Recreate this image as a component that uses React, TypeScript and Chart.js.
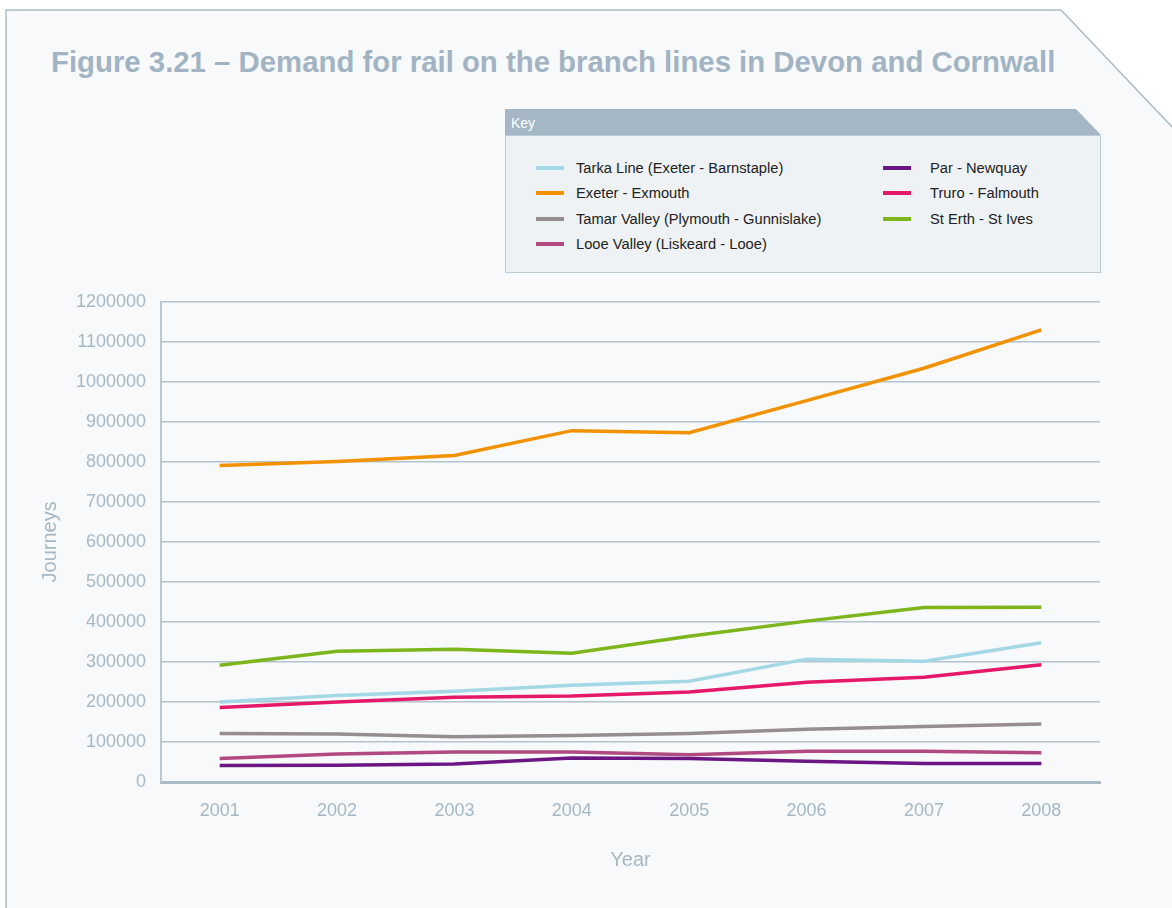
import React, { useEffect, useRef } from "react";
import { Chart, registerables } from "chart.js";

Chart.register(...registerables);

const titleText = "Figure 3.21 – Demand for rail on the branch lines in Devon and Cornwall";
const years = ["2001", "2002", "2003", "2004", "2005", "2006", "2007", "2008"];

const tarka = [200000, 216000, 227000, 242000, 252000, 307000, 302000, 348000];
const exmouth = [791000, 801000, 816000, 878000, 873000, 953000, 1034000, 1130000];
const tamar = [121000, 120000, 113000, 116000, 121000, 132000, 139000, 145000];
const looe = [59000, 70000, 75000, 75000, 68000, 77000, 77000, 73000];
const par = [41000, 42000, 45000, 60000, 59000, 52000, 46000, 46000];
const truro = [186000, 200000, 212000, 215000, 225000, 249000, 262000, 293000];
const stErth = [292000, 327000, 332000, 322000, 364000, 402000, 436000, 437000];

const seriesNames = [
  "Tarka Line (Exeter - Barnstaple)",
  "Exeter - Exmouth",
  "Tamar Valley (Plymouth - Gunnislake)",
  "Looe Valley (Liskeard - Looe)",
  "Par - Newquay",
  "Truro - Falmouth",
  "St Erth - St Ives",
];
const seriesValues = [tarka, exmouth, tamar, looe, par, truro, stErth];
const seriesColors = ["#a5d8e5", "#f39200", "#958d90", "#b04a80", "#6b1683", "#e5186a", "#7cb51c"];

const yMin = 0;
const yMax = 1200000;
const yStep = 100000;

const AXIS_TEXT = "#a6b8c5";
const FONT = "'Liberation Sans', Arial, sans-serif";

export default function App() {
  const canvasRef = useRef<HTMLCanvasElement | null>(null);

  useEffect(() => {
    if (!canvasRef.current) return;
    const chart = new Chart(canvasRef.current, {
      type: "line",
      data: {
        labels: years,
        datasets: seriesNames.map((name, i) => ({
          label: name,
          data: seriesValues[i],
          borderColor: seriesColors[i],
          backgroundColor: seriesColors[i],
          borderWidth: 3.5,
          pointRadius: 0,
          tension: 0,
          fill: false,
        })),
      },
      options: {
        animation: false,
        responsive: false,
        maintainAspectRatio: false,
        layout: { padding: { left: 0, right: 72, top: 17, bottom: 0 } },
        plugins: { legend: { display: false }, tooltip: { enabled: false }, title: { display: false } },
        scales: {
          x: {
            type: "category",
            offset: true,
            grid: { display: true, color: "rgba(0,0,0,0)", drawTicks: false },
            border: { display: true, color: "#a9bbc7", width: 3 },
            ticks: { color: AXIS_TEXT, font: { family: FONT, size: 18 }, padding: 18, maxRotation: 0 },
            title: { display: true, text: "Year", color: AXIS_TEXT, font: { family: FONT, size: 20 }, padding: { top: 0, bottom: 36 } },
            afterFit: (scale: any) => {
              scale.height = 126;
            },
          },
          y: {
            min: yMin,
            max: yMax,
            grid: { color: "#b4c3cd", lineWidth: 1.5, drawTicks: false },
            border: { display: true, color: "#b9c9d3", width: 2 },
            ticks: {
              stepSize: yStep,
              color: AXIS_TEXT,
              font: { family: FONT, size: 18 },
              padding: 15,
              callback: (v: any) => String(v),
            },
            title: { display: true, text: "Journeys", color: AXIS_TEXT, font: { family: FONT, size: 20 }, padding: { top: 38, bottom: 0 } },
            afterFit: (scale: any) => {
              scale.width = 161;
            },
          },
        },
      },
    });
    return () => chart.destroy();
  }, []);

  const col1 = [0, 1, 2, 3];
  const col2 = [4, 5, 6];

  const legendItem = (i: number, swatchLeft: number, textLeft: number, rowTop: number) => (
    <div key={i}>
      <div
        style={{
          position: "absolute",
          left: swatchLeft,
          top: rowTop - 2,
          width: 28,
          height: 4,
          background: seriesColors[i],
        }}
      />
      <div
        style={{
          position: "absolute",
          left: textLeft,
          top: rowTop - 9,
          fontFamily: FONT,
          fontSize: 14.7,
          lineHeight: "18px",
          color: "#222",
          whiteSpace: "nowrap",
        }}
      >
        {seriesNames[i]}
      </div>
    </div>
  );

  return (
    <div style={{ position: "fixed", left: 0, top: 0, width: 1172, height: 908, background: "#ffffff", overflow: "hidden" }}>
      <svg width={1172} height={908} style={{ position: "absolute", left: 0, top: 0 }}>
        <polygon points="6,10 1061,10 1173,128 1173,920 6,920" fill="#f7f9fa" stroke="#a9bccb" strokeWidth={1.5} />
        <polygon points="505,109 1076,109 1101,135 505,135" fill="#a5b7c4" />
        <rect x={505.5} y={135.5} width={595} height={137} fill="#eef2f4" stroke="#bccbd4" strokeWidth={1} />
      </svg>
      <div
        style={{
          position: "absolute",
          left: 51,
          top: 44.6,
          fontFamily: FONT,
          fontWeight: "bold",
          fontSize: 29.35,
          lineHeight: "34px",
          color: "#a2b4c3",
          whiteSpace: "nowrap",
        }}
      >
        {titleText}
      </div>
      <div
        style={{
          position: "absolute",
          left: 511,
          top: 114,
          fontFamily: FONT,
          fontSize: 14,
          lineHeight: "18px",
          color: "#ffffff",
        }}
      >
        Key
      </div>
      {col1.map((i, r) => legendItem(i, 536, 576, 168 + r * 25.3))}
      {col2.map((i, r) => legendItem(i, 883, 930, 168 + r * 25.3))}
      <canvas
        ref={canvasRef}
        width={1172}
        height={632}
        style={{ position: "absolute", left: 0, top: 276, width: 1172, height: 632 }}
      />
    </div>
  );
}
